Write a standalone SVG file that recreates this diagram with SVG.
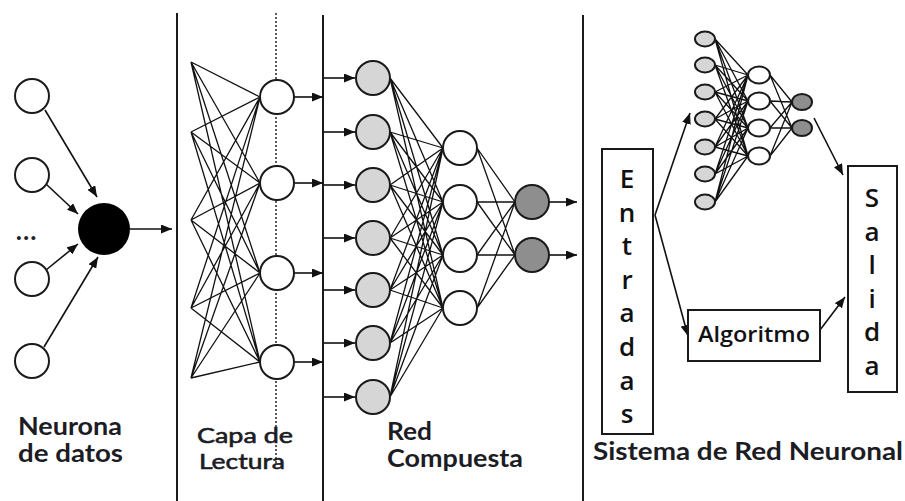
<svg xmlns="http://www.w3.org/2000/svg" width="905" height="501" viewBox="0 0 905 501">
<style>
.bg{fill:#ffffff}
.sep{stroke:#1a1a1a;stroke-width:2;fill:none}
.dot{stroke:#333;stroke-width:1.6;stroke-dasharray:2 2;fill:none}
.n{fill:#fff;stroke:#1a1a1a;stroke-width:2}
.nl{fill:#d6d6d6;stroke:#1a1a1a;stroke-width:2}
.nd{fill:#8e8e8e;stroke:#1a1a1a;stroke-width:2}
.edge{stroke:#111;stroke-width:1.3;fill:none}
.arr{stroke:#111;stroke-width:1.6;fill:none;marker-end:url(#ah)}
.box{fill:#fff;stroke:#1a1a1a;stroke-width:2}
.lab{font-family:Lato,"Open Sans",sans-serif;font-weight:700;font-size:24px;fill:#1c1c24}
.reg{font-weight:400;font-size:21.5px;stroke:#1c1c24;stroke-width:0.6px}
.let{font-family:"Open Sans","DejaVu Sans",sans-serif;font-weight:600;font-size:26px;fill:#111;text-anchor:middle}
</style>
<defs>
<marker id="ah" markerWidth="11" markerHeight="9" refX="11" refY="4.5" orient="auto" markerUnits="userSpaceOnUse">
<path d="M0,0 L11,4.5 L0,9 z" fill="#111"/>
</marker>
</defs>
<rect class="bg" x="0" y="0" width="905" height="501"/>

<g id="separators">
<line class="sep" x1="177" y1="13" x2="177" y2="501"/>
<line class="sep" x1="323" y1="15" x2="323" y2="501"/>
<line class="sep" x1="583" y1="15" x2="583" y2="501"/>
<line class="dot" x1="276" y1="13" x2="276" y2="463"/>
</g>

<g id="connectors">
<path class="arr" d="M45 110L97 197"/>
<path class="arr" d="M46 184L78 214"/>
<path class="arr" d="M46 270L78 244"/>
<path class="arr" d="M44 347L98 257"/>
<path class="arr" d="M130 229L172 229"/>

<path class="edge" d="M191 62L260 97M191 62L260 183M191 62L260 273M191 62L260 362M191 132L260 97M191 132L260 183M191 132L260 273M191 132L260 362M191 220L260 97M191 220L260 183M191 220L260 273M191 220L260 362M191 308L260 97M191 308L260 183M191 308L260 273M191 308L260 362M191 378L260 97M191 378L260 183M191 378L260 273M191 378L260 362"/>
<path class="arr" d="M294 97L323 97"/>
<path class="arr" d="M294 183L323 183"/>
<path class="arr" d="M294 273L323 273"/>
<path class="arr" d="M294 362L323 362"/>

<path class="arr" d="M324 78L355 78"/>
<path class="arr" d="M324 132L355 132"/>
<path class="arr" d="M324 185L355 185"/>
<path class="arr" d="M324 238L355 238"/>
<path class="arr" d="M324 290L355 290"/>
<path class="arr" d="M324 343L355 343"/>
<path class="arr" d="M324 397L355 397"/>
<path class="edge" d="M390 78L443 148M390 78L443 202M390 78L443 255M390 78L443 308M390 132L443 148M390 132L443 202M390 132L443 255M390 132L443 308M390 185L443 148M390 185L443 202M390 185L443 255M390 185L443 308M390 238L443 148M390 238L443 202M390 238L443 255M390 238L443 308M390 290L443 148M390 290L443 202M390 290L443 255M390 290L443 308M390 343L443 148M390 343L443 202M390 343L443 255M390 343L443 308M390 397L443 148M390 397L443 202M390 397L443 255M390 397L443 308"/>
<path class="edge" d="M477 148L515 202M477 148L515 255M477 202L515 202M477 202L515 255M477 255L515 202M477 255L515 255M477 308L515 202M477 308L515 255"/>
<path class="arr" d="M549 202L577 202"/>
<path class="arr" d="M549 255L577 255"/>

<path class="edge" d="M715 39L748 75M715 39L748 101M715 39L748 128M715 39L748 156M715 65L748 75M715 65L748 101M715 65L748 128M715 65L748 156M715 92L748 75M715 92L748 101M715 92L748 128M715 92L748 156M715 119L748 75M715 119L748 101M715 119L748 128M715 119L748 156M715 147L748 75M715 147L748 101M715 147L748 128M715 147L748 156M715 174L748 75M715 174L748 101M715 174L748 128M715 174L748 156M715 202L748 75M715 202L748 101M715 202L748 128M715 202L748 156"/>
<path class="edge" d="M770 75L792 102M770 75L792 128M770 101L792 102M770 101L792 128M770 128L792 102M770 128L792 128M770 156L792 102M770 156L792 128"/>
<path class="arr" d="M655 215L690 113"/>
<path class="arr" d="M655 215L688 336"/>
<path class="arr" d="M820 330L845 297"/>
<path class="arr" d="M814 118L843 175"/>
</g>

<g id="neurona-datos">
<circle class="n" cx="32" cy="96" r="17"/>
<circle class="n" cx="32" cy="175" r="17"/>
<circle class="n" cx="32" cy="279" r="17"/>
<circle class="n" cx="32" cy="361" r="17"/>
<circle cx="104" cy="229" r="26" fill="#000"/>
<text x="16" y="240" style="font-family:Lato,sans-serif;font-size:24px;font-weight:900;fill:#222;letter-spacing:1.5px">...</text>
</g>

<g id="capa-lectura">
<circle class="n" cx="277" cy="97" r="17"/>
<circle class="n" cx="277" cy="183" r="17"/>
<circle class="n" cx="277" cy="273" r="17"/>
<circle class="n" cx="277" cy="362" r="17"/>
</g>

<g id="red-compuesta">
<circle class="nl" cx="373" cy="78" r="17"/>
<circle class="nl" cx="373" cy="132" r="17"/>
<circle class="nl" cx="373" cy="185" r="17"/>
<circle class="nl" cx="373" cy="238" r="17"/>
<circle class="nl" cx="373" cy="290" r="17"/>
<circle class="nl" cx="373" cy="343" r="17"/>
<circle class="nl" cx="373" cy="397" r="17"/>
<circle class="n" cx="460" cy="148" r="17"/>
<circle class="n" cx="460" cy="202" r="17"/>
<circle class="n" cx="460" cy="255" r="17"/>
<circle class="n" cx="460" cy="308" r="17"/>
<circle class="nd" cx="532" cy="202" r="17"/>
<circle class="nd" cx="532" cy="255" r="17"/>
</g>

<g id="red-pequena">
<ellipse class="nl" cx="705" cy="39" rx="10" ry="7.5"/>
<ellipse class="nl" cx="705" cy="65" rx="10" ry="7.5"/>
<ellipse class="nl" cx="705" cy="92" rx="10" ry="7.5"/>
<ellipse class="nl" cx="705" cy="119" rx="10" ry="7.5"/>
<ellipse class="nl" cx="705" cy="147" rx="10" ry="7.5"/>
<ellipse class="nl" cx="705" cy="174" rx="10" ry="7.5"/>
<ellipse class="nl" cx="705" cy="202" rx="10" ry="7.5"/>
<ellipse class="n" cx="759" cy="75" rx="11" ry="8.5"/>
<ellipse class="n" cx="759" cy="101" rx="11" ry="8.5"/>
<ellipse class="n" cx="759" cy="128" rx="11" ry="8.5"/>
<ellipse class="n" cx="759" cy="156" rx="11" ry="8.5"/>
<ellipse class="nd" cx="802" cy="102" rx="10" ry="8"/>
<ellipse class="nd" cx="802" cy="128" rx="10" ry="8"/>
</g>

<g id="entradas">
<rect class="box" x="602" y="149" width="51" height="285"/>
<text class="let" x="627" y="188">E</text>
<text class="let" x="627" y="221.6">n</text>
<text class="let" x="627" y="255.2">t</text>
<text class="let" x="627" y="288.8">r</text>
<text class="let" x="627" y="322.4">a</text>
<text class="let" x="627" y="356">d</text>
<text class="let" x="627" y="389.6">a</text>
<text class="let" x="627" y="423.2">s</text>
</g>

<g id="algoritmo">
<rect class="box" x="688" y="310" width="132" height="51"/>
<text x="698" y="342" textLength="112" lengthAdjust="spacingAndGlyphs" style="font-family:'Open Sans',sans-serif;font-weight:600;font-size:22px;fill:#111">Algoritmo</text>
</g>

<g id="salida">
<rect class="box" x="848" y="166" width="49" height="226"/>
<text class="let" x="872" y="207">S</text>
<text class="let" x="872" y="240.6">a</text>
<text class="let" x="872" y="274.2">l</text>
<text class="let" x="872" y="307.8">i</text>
<text class="let" x="872" y="341.4">d</text>
<text class="let" x="872" y="375">a</text>
</g>

<g id="labels">
<text class="lab" x="18" y="435" textLength="104" lengthAdjust="spacingAndGlyphs">Neurona</text>
<text class="lab" x="18" y="462" textLength="105" lengthAdjust="spacingAndGlyphs">de datos</text>
<text class="lab reg" x="197" y="443" textLength="96" lengthAdjust="spacingAndGlyphs">Capa de</text>
<text class="lab reg" x="199" y="469" textLength="86" lengthAdjust="spacingAndGlyphs">Lectura</text>
<text class="lab" x="387" y="440" textLength="45" lengthAdjust="spacingAndGlyphs">Red</text>
<text class="lab" x="387" y="467" textLength="136" lengthAdjust="spacingAndGlyphs">Compuesta</text>
<text class="lab" x="593" y="460" textLength="310" lengthAdjust="spacingAndGlyphs">Sistema de Red Neuronal</text>
</g>
</svg>
